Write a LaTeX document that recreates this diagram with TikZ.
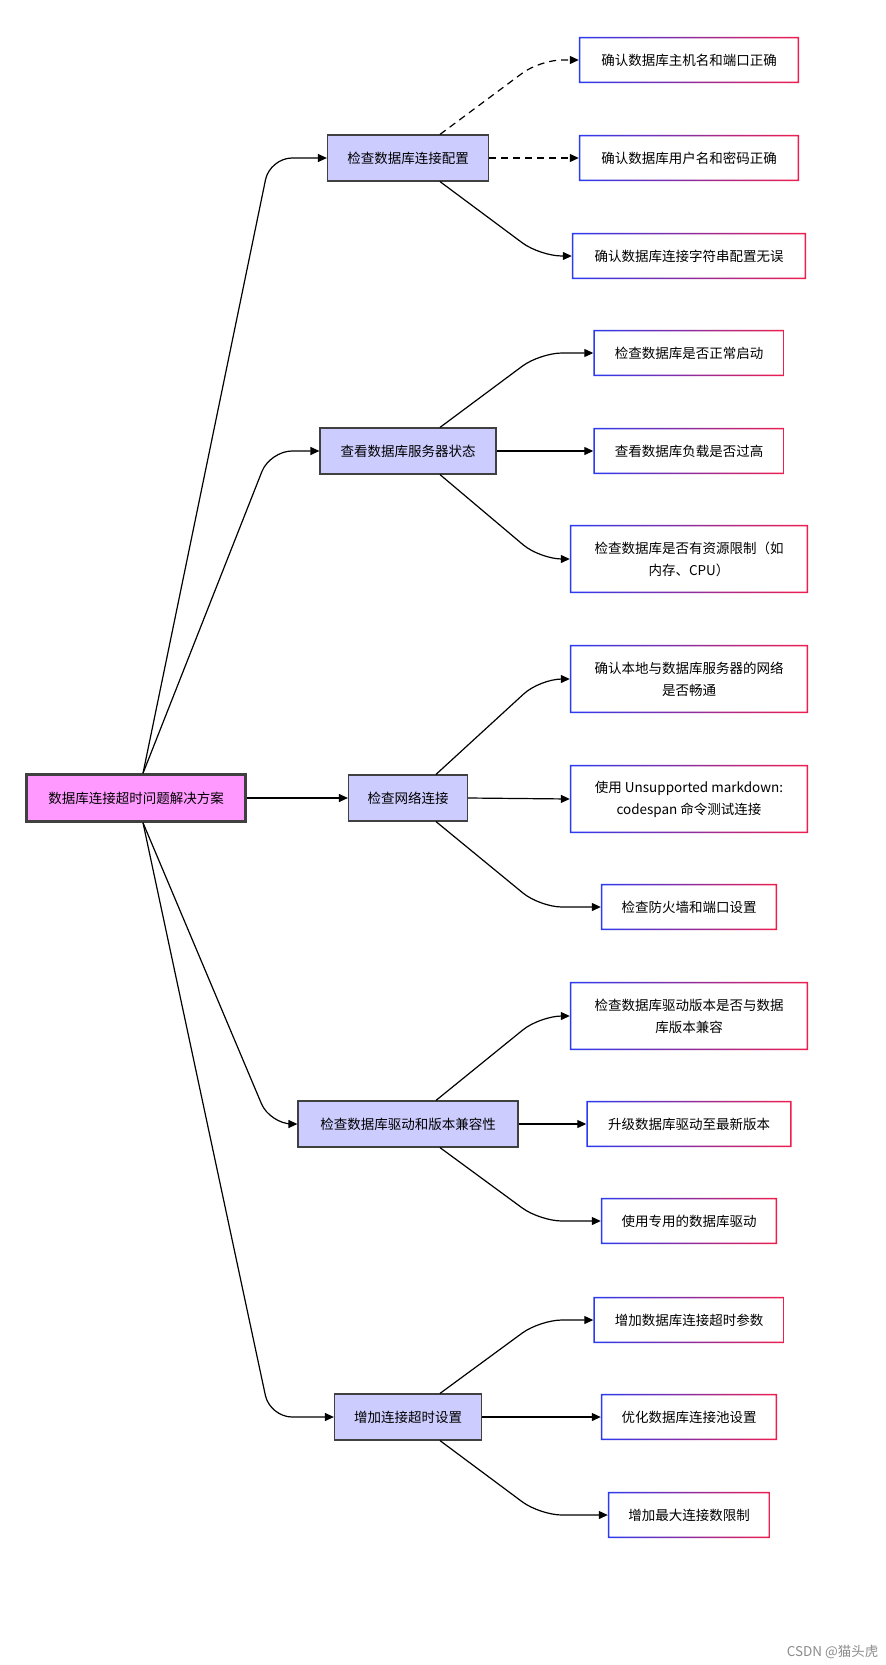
\documentclass[tikz,border=0pt]{standalone}
\usepackage{fontspec}
\setmainfont{Noto Sans CJK SC}
\usetikzlibrary{arrows.meta}
\definecolor{midfill}{HTML}{CCCCFF}
\definecolor{rootfill}{HTML}{FF99FF}
\definecolor{leafblue}{HTML}{2B3BF0}
\definecolor{leafred}{HTML}{F01E4E}
\tikzset{
  root/.style={draw=black!75,line width=2.5pt,fill=rootfill,minimum width=219,minimum height=47,inner sep=0},
  mid/.style={draw=black!75,line width=1.2pt,fill=midfill,minimum height=46,inner sep=0},
  leaf/.style={fill=white,minimum height=46,inner sep=0,align=center},
  link/.style={line width=1.2pt,-{Triangle[length=9pt,width=8pt]},rounded corners=22},
  dashlink/.style={link,dash pattern=on 7pt off 5pt},
}
\begin{document}
\begin{tikzpicture}[x=1pt,y=-1pt,font=\fontsize{13.5}{22}\selectfont]
\useasboundingbox[fill=white] (0,0) rectangle (886,1665);
			%root
			\node [root] (r) at (136,798) {数据库连接超时问题解决方案};

			%middle nodes
			\node [mid,minimum width=161] (m1) at (408,158) {检查数据库连接配置};
			\node [mid,minimum width=176] (m2) at (408,451) {查看数据库服务器状态};
			\node [mid,minimum width=119] (m3) at (408,798) {检查网络连接};
			\node [mid,minimum width=220] (m4) at (408,1124) {检查数据库驱动和版本兼容性};
			\node [mid,minimum width=147] (m5) at (408,1417) {增加连接超时设置};

			%leaf nodes
			\node [leaf,minimum width=220] (l1) at (689,60) {确认数据库主机名和端口正确};
			\node [leaf,minimum width=220] (l2) at (689,158) {确认数据库用户名和密码正确};
			\node [leaf,minimum width=234] (l3) at (689,256) {确认数据库连接字符串配置无误};
			\node [leaf,minimum width=191] (l4) at (689,353) {检查数据库是否正常启动};
			\node [leaf,minimum width=191] (l5) at (689,451) {查看数据库负载是否过高};
			\node [leaf,minimum width=238,minimum height=68] (l6) at (689,559) {检查数据库是否有资源限制（如\\内存、CPU）};
			\node [leaf,minimum width=238,minimum height=68] (l7) at (689,679) {确认本地与数据库服务器的网络\\是否畅通};
			\node [leaf,minimum width=238,minimum height=68] (l8) at (689,799) {使用 Unsupported markdown:\\codespan 命令测试连接};
			\node [leaf,minimum width=176] (l9) at (689,907) {检查防火墙和端口设置};
			\node [leaf,minimum width=238,minimum height=68] (l10) at (689,1016) {检查数据库驱动版本是否与数据\\库版本兼容};
			\node [leaf,minimum width=205] (l11) at (689,1124) {升级数据库驱动至最新版本};
			\node [leaf,minimum width=176] (l12) at (689,1221) {使用专用的数据库驱动};
			\node [leaf,minimum width=191] (l13) at (689,1320) {增加数据库连接超时参数};
			\node [leaf,minimum width=176] (l14) at (689,1417) {优化数据库连接池设置};
			\node [leaf,minimum width=162] (l15) at (689,1515) {增加最大连接数限制};

			%leaf frames
			\foreach \n in {l1,l2,l3,l4,l5,l6,l7,l8,l9,l10,l11,l12,l13,l14,l15}
			  \shade[left color=leafblue,right color=leafred,even odd rule]
			    (\n.south west) rectangle (\n.north east)
			    ([shift={(1.5,-1.5)}]\n.south west) rectangle ([shift={(-1.5,1.5)}]\n.north east);

			%root edges
			\draw[link] ([xshift=7]r.north) -- (270,158) -- (m1.west);
			\draw[link] ([xshift=7]r.north) -- (270,451) -- (m2.west);
			\draw[link] (r.east) -- (m3.west);
			\draw[link] ([xshift=7]r.south) -- (270,1124) -- (m4.west);
			\draw[link] ([xshift=7]r.south) -- (270,1417) -- (m5.west);

			%middle edges
			\draw[dashlink] ([xshift=32]m1.north) -- (540,60) -- (l1.west);
			\draw[dashlink] (m1.east) -- (l2.west);
			\draw[link] ([xshift=32]m1.south) -- (540,256) -- (l3.west);
			\draw[link] ([xshift=32]m2.north) -- (540,353) -- (l4.west);
			\draw[link] (m2.east) -- (l5.west);
			\draw[link] ([xshift=32]m2.south) -- (540,559) -- (l6.west);
			\draw[link] ([xshift=28]m3.north) -- (540,679) -- (l7.west);
			\draw[link] (m3.east) -- (l8.west);
			\draw[link] ([xshift=28]m3.south) -- (540,907) -- (l9.west);
			\draw[link] ([xshift=28]m4.north) -- (540,1016) -- (l10.west);
			\draw[link] (m4.east) -- (l11.west);
			\draw[link] ([xshift=32]m4.south) -- (540,1221) -- (l12.west);
			\draw[link] ([xshift=32]m5.north) -- (540,1320) -- (l13.west);
			\draw[link] (m5.east) -- (l14.west);
			\draw[link] ([xshift=32]m5.south) -- (540,1515) -- (l15.west);

			%watermark
			\node [text=black!45,anchor=south east] (wm) at (882,1662) {CSDN @猫头虎};
\end{tikzpicture}
\end{document}
